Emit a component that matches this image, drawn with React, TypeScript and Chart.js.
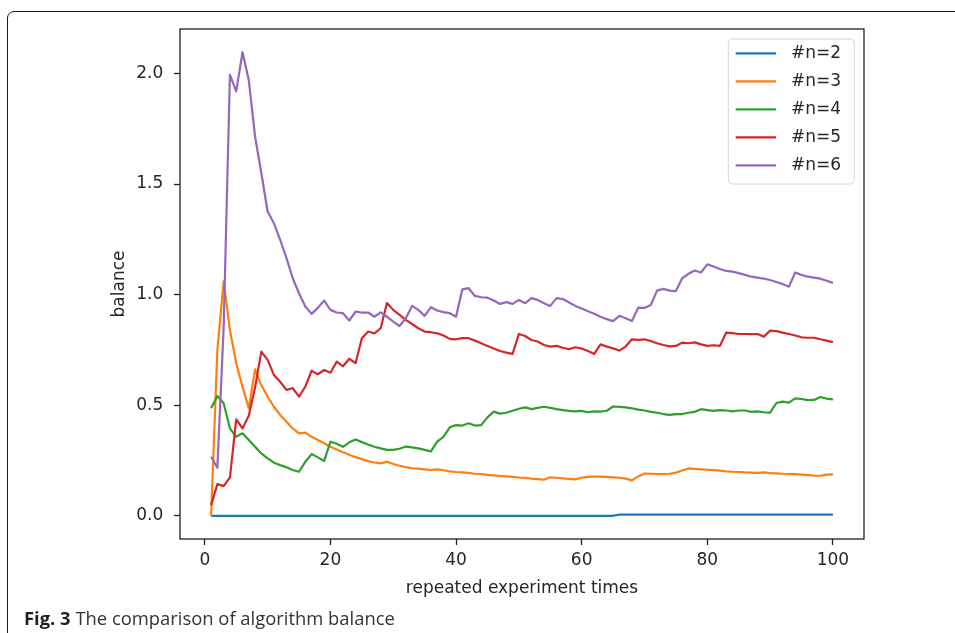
import React, { useEffect, useRef } from 'react';
import { Chart, registerables } from 'chart.js';

Chart.register(...registerables);

const xValues = [
  1, 2, 3, 4, 5, 6, 7, 8, 9, 10, 11, 12, 13, 14, 15, 16, 17, 18, 19, 20,
  21, 22, 23, 24, 25, 26, 27, 28, 29, 30, 31, 32, 33, 34, 35, 36, 37, 38, 39, 40,
  41, 42, 43, 44, 45, 46, 47, 48, 49, 50, 51, 52, 53, 54, 55, 56, 57, 58, 59, 60,
  61, 62, 63, 64, 65, 66, 67, 68, 69, 70, 71, 72, 73, 74, 75, 76, 77, 78, 79, 80,
  81, 82, 83, 84, 85, 86, 87, 88, 89, 90, 91, 92, 93, 94, 95, 96, 97, 98, 99, 100,
];

const seriesLabels = ['#n=2', '#n=3', '#n=4', '#n=5', '#n=6'];
const seriesColors = ['#1f77b4', '#ff7f0e', '#2ca02c', '#d62728', '#9467bd'];

const n2 = [
  0, 0, 0, 0, 0, 0, 0, 0, 0, 0, 0, 0, 0, 0, 0, 0, 0, 0, 0, 0,
  0, 0, 0, 0, 0, 0, 0, 0, 0, 0, 0, 0, 0, 0, 0, 0, 0, 0, 0, 0,
  0, 0, 0, 0, 0, 0, 0, 0, 0, 0, 0, 0, 0, 0, 0, 0, 0, 0, 0, 0,
  0, 0, 0, 0, 0, 0.005, 0.005, 0.005, 0.005, 0.005, 0.005, 0.005, 0.005, 0.005, 0.005, 0.005, 0.005, 0.005, 0.005, 0.005,
  0.005, 0.005, 0.005, 0.005, 0.005, 0.005, 0.005, 0.005, 0.005, 0.005, 0.005, 0.005, 0.005, 0.005, 0.005, 0.005, 0.005, 0.005, 0.005, 0.005,
];

const n3 = [
  0.0, 0.75, 1.06, 0.84, 0.69, 0.584, 0.486, 0.662, 0.59, 0.539,
  0.493, 0.456, 0.425, 0.395, 0.373, 0.376, 0.357, 0.343, 0.328, 0.312,
  0.3, 0.287, 0.276, 0.265, 0.256, 0.247, 0.241, 0.237, 0.244, 0.234,
  0.226, 0.22, 0.215, 0.213, 0.21, 0.207, 0.21, 0.206, 0.201, 0.198,
  0.196, 0.194, 0.19, 0.189, 0.185, 0.183, 0.18, 0.178, 0.176, 0.173,
  0.171, 0.168, 0.166, 0.163, 0.174, 0.172, 0.169, 0.167, 0.165, 0.172,
  0.176, 0.177, 0.177, 0.176, 0.174, 0.172, 0.168, 0.16, 0.178, 0.191,
  0.19, 0.189, 0.189, 0.19, 0.195, 0.205, 0.214, 0.212, 0.21, 0.208,
  0.206, 0.204, 0.201, 0.199, 0.198, 0.196, 0.195, 0.194, 0.196, 0.193,
  0.192, 0.19, 0.189, 0.188, 0.186, 0.184, 0.182, 0.181, 0.186, 0.187,
];

const n4 = [
  0.486, 0.542, 0.509, 0.395, 0.357, 0.373, 0.343, 0.312, 0.282, 0.26,
  0.24, 0.229, 0.219, 0.207, 0.199, 0.244, 0.279, 0.264, 0.248, 0.335,
  0.326, 0.312, 0.332, 0.345, 0.333, 0.322, 0.312, 0.305, 0.298, 0.298,
  0.303, 0.313, 0.309, 0.305, 0.298, 0.291, 0.335, 0.357, 0.4, 0.41,
  0.408, 0.418, 0.408, 0.41, 0.445, 0.471, 0.462, 0.466, 0.475, 0.484,
  0.49, 0.482, 0.488, 0.493, 0.488, 0.482, 0.478, 0.474, 0.472, 0.474,
  0.468, 0.472, 0.471, 0.475, 0.494, 0.492, 0.49, 0.486, 0.48, 0.476,
  0.47, 0.466, 0.46, 0.456, 0.46, 0.46, 0.466, 0.47, 0.482, 0.478,
  0.474, 0.478, 0.476, 0.472, 0.476, 0.476, 0.47, 0.472, 0.468, 0.466,
  0.51, 0.516, 0.512, 0.531, 0.528, 0.523, 0.524, 0.537, 0.53, 0.526,
];

const n5 = [
  0.048, 0.143, 0.134, 0.174, 0.436, 0.395, 0.452, 0.58, 0.742, 0.705,
  0.637, 0.606, 0.569, 0.577, 0.539, 0.584, 0.656, 0.64, 0.659, 0.647,
  0.697, 0.676, 0.71, 0.69, 0.803, 0.833, 0.825, 0.848, 0.962, 0.931,
  0.908, 0.886, 0.867, 0.848, 0.833, 0.83, 0.825, 0.815, 0.8, 0.798,
  0.803, 0.803, 0.792, 0.78, 0.768, 0.756, 0.745, 0.738, 0.732, 0.822,
  0.813, 0.795, 0.788, 0.772, 0.765, 0.768, 0.76, 0.753, 0.762, 0.756,
  0.745, 0.732, 0.775, 0.765, 0.757, 0.747, 0.765, 0.798, 0.795, 0.798,
  0.79, 0.78, 0.772, 0.766, 0.768, 0.783, 0.78, 0.784, 0.775, 0.768,
  0.771, 0.768, 0.828, 0.826, 0.822, 0.822, 0.821, 0.822, 0.81, 0.837,
  0.835, 0.828, 0.822, 0.815, 0.807, 0.805, 0.805, 0.798, 0.792, 0.785,
];

const n6 = [
  0.267, 0.217, 0.85, 1.994, 1.919, 2.096, 1.97, 1.715, 1.55, 1.376,
  1.323, 1.248, 1.165, 1.074, 1.006, 0.946, 0.913, 0.94, 0.973, 0.931,
  0.919, 0.916, 0.883, 0.923, 0.919, 0.919, 0.9, 0.92, 0.9, 0.878,
  0.858, 0.893, 0.949, 0.931, 0.904, 0.943, 0.928, 0.921, 0.916, 0.9,
  1.024, 1.029, 0.994, 0.988, 0.986, 0.973, 0.958, 0.966, 0.958, 0.976,
  0.961, 0.984, 0.976, 0.961, 0.949, 0.984, 0.98, 0.964, 0.949, 0.937,
  0.925, 0.913, 0.9, 0.889, 0.88, 0.904, 0.893, 0.881, 0.941, 0.94,
  0.953, 1.018, 1.026, 1.018, 1.016, 1.074, 1.094, 1.109, 1.1, 1.137,
  1.127, 1.116, 1.107, 1.104, 1.097, 1.089, 1.081, 1.077, 1.072, 1.066,
  1.057, 1.048, 1.036, 1.1, 1.089, 1.081, 1.077, 1.072, 1.063, 1.053,
];

const seriesValues = [n2, n3, n4, n5, n6];

const xTickValues = [0, 20, 40, 60, 80, 100];
const xTickLabels = ['0', '20', '40', '60', '80', '100'];
const yTickValues = [0, 0.5, 1, 1.5, 2];
const yTickLabels = ['0.0', '0.5', '1.0', '1.5', '2.0'];

const xTitle = 'repeated experiment times';
const yTitle = 'balance';
const captionBold = 'Fig. 3';
const captionText = ' The comparison of algorithm balance';

const FONT = "'DejaVu Sans', sans-serif";
const TEXT = '#262626';

const framePlugin = {
  id: 'frameAndLegend',
  afterDatasetsDraw(chart: any) {
    const { ctx, chartArea: a } = chart;
    ctx.save();
    ctx.strokeStyle = '#222';
    ctx.lineWidth = 1.3;
    ctx.strokeRect(a.left, a.top, a.right - a.left, a.bottom - a.top);

    // legend box (matplotlib style, upper right)
    const bw = 126;
    const bh = 145;
    const bx = a.right - 9.7 - bw;
    const by = a.top + 10;
    const r = 4;
    ctx.beginPath();
    ctx.moveTo(bx + r, by);
    ctx.lineTo(bx + bw - r, by);
    ctx.quadraticCurveTo(bx + bw, by, bx + bw, by + r);
    ctx.lineTo(bx + bw, by + bh - r);
    ctx.quadraticCurveTo(bx + bw, by + bh, bx + bw - r, by + bh);
    ctx.lineTo(bx + r, by + bh);
    ctx.quadraticCurveTo(bx, by + bh, bx, by + bh - r);
    ctx.lineTo(bx, by + r);
    ctx.quadraticCurveTo(bx, by, bx + r, by);
    ctx.closePath();
    ctx.fillStyle = 'rgba(255,255,255,0.85)';
    ctx.fill();
    ctx.strokeStyle = '#d6d6d6';
    ctx.lineWidth = 1;
    ctx.stroke();

    ctx.font = `17px ${FONT}`;
    ctx.textBaseline = 'middle';
    ctx.textAlign = 'left';
    chart.data.datasets.forEach((ds: any, i: number) => {
      const cy = by + 14.3 + i * 28;
      ctx.strokeStyle = ds.borderColor;
      ctx.lineWidth = 2.2;
      ctx.beginPath();
      ctx.moveTo(bx + 7.4, cy);
      ctx.lineTo(bx + 47.7, cy);
      ctx.stroke();
      ctx.fillStyle = TEXT;
      ctx.fillText(ds.label, bx + 62.7, cy + 0.5);
    });
    ctx.restore();
  },
};

export default function App() {
  const canvasRef = useRef<HTMLCanvasElement | null>(null);

  useEffect(() => {
    if (!canvasRef.current) return;
    const datasets = seriesValues.map((vals, i) => ({
      label: seriesLabels[i],
      data: vals.map((v, j) => ({ x: xValues[j], y: v })),
      borderColor: seriesColors[i],
      backgroundColor: seriesColors[i],
      borderWidth: 2.2,
      pointRadius: 0,
      pointHoverRadius: 0,
      tension: 0,
      fill: false,
      borderJoinStyle: 'round' as const,
      order: seriesValues.length - i,
    }));

    const chart = new Chart(canvasRef.current, {
      type: 'line',
      data: { datasets },
      options: {
        animation: false,
        responsive: false,
        devicePixelRatio: 1,
        layout: { padding: { left: 0, right: 91, top: 29, bottom: 0 } },
        plugins: {
          legend: { display: false },
          tooltip: { enabled: false },
        },
        scales: {
          x: {
            type: 'linear',
            min: -3.95,
            max: 104.95,
            afterFit: (s: any) => {
              s.height = 94;
            },
            afterBuildTicks: (s: any) => {
              s.ticks = xTickValues.map((v) => ({ value: v }));
            },
            ticks: {
              autoSkip: false,
              maxRotation: 0,
              padding: 5.8,
              color: TEXT,
              font: { family: FONT, size: 17 },
              callback: (v: any) => {
                const k = xTickValues.indexOf(Number(v));
                return k >= 0 ? xTickLabels[k] : '';
              },
            },
            grid: {
              display: true,
              drawOnChartArea: false,
              drawTicks: true,
              tickLength: 6,
              color: '#222',
              tickColor: '#222',
              tickWidth: 1.3,
            },
            border: { display: false },
            title: {
              display: true,
              text: xTitle,
              color: TEXT,
              font: { family: FONT, size: 17 },
              padding: { top: 0, bottom: 34.5 },
            },
          },
          y: {
            type: 'linear',
            min: -0.105,
            max: 2.201,
            afterFit: (s: any) => {
              s.width = 180;
            },
            afterBuildTicks: (s: any) => {
              s.ticks = yTickValues.map((v) => ({ value: v }));
            },
            ticks: {
              autoSkip: false,
              padding: 10.7,
              color: TEXT,
              font: { family: FONT, size: 17 },
              callback: (v: any) => {
                const k = yTickValues.indexOf(Number(v));
                return k >= 0 ? yTickLabels[k] : '';
              },
            },
            grid: {
              display: true,
              drawOnChartArea: false,
              drawTicks: true,
              tickLength: 6,
              color: '#222',
              tickColor: '#222',
              tickWidth: 1.3,
            },
            border: { display: false },
            title: {
              display: true,
              text: yTitle,
              color: TEXT,
              font: { family: FONT, size: 17 },
              padding: { top: 109.8, bottom: 0 },
            },
          },
        },
      },
      plugins: [framePlugin],
    });
    return () => chart.destroy();
  }, []);

  return (
    <div
      style={{
        position: 'fixed',
        left: 0,
        top: 0,
        width: 955,
        height: 633,
        overflow: 'hidden',
        background: '#ffffff',
      }}
    >
      <div
        style={{
          position: 'absolute',
          left: 7,
          top: 11,
          width: 1000,
          height: 1000,
          border: '1.7px solid #1a1a1a',
          borderTopLeftRadius: 7,
          boxSizing: 'border-box',
        }}
      />
      <canvas
        ref={canvasRef}
        width={955}
        height={633}
        style={{ position: 'absolute', left: 0, top: 0, width: 955, height: 633 }}
      />
      <div
        style={{
          position: 'absolute',
          left: 24,
          top: 609,
          fontFamily: "'Open Sans', sans-serif",
          fontSize: 18.4,
          lineHeight: '18px',
          color: '#333',
          whiteSpace: 'nowrap',
        }}
      >
        <span style={{ fontWeight: 700, color: '#231f20' }}>{captionBold}</span>
        {captionText}
      </div>
    </div>
  );
}
